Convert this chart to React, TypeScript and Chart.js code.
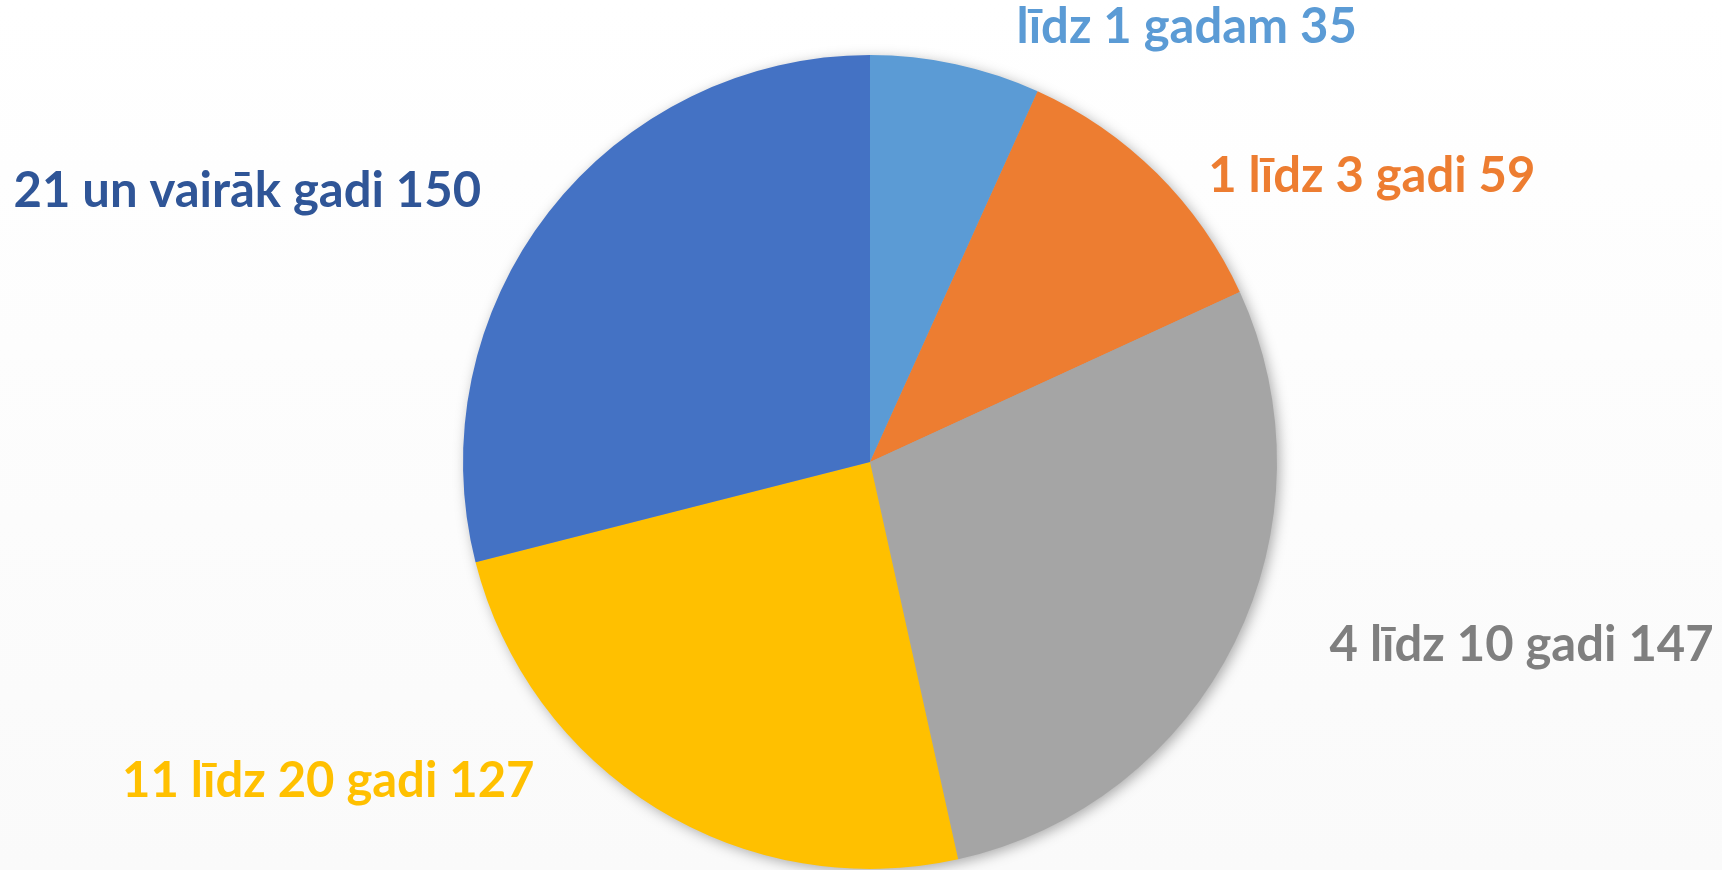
import React, { useEffect, useRef } from "react";
import { Chart, registerables } from "chart.js";

Chart.register(...registerables);

const categories = [
  "līdz 1 gadam",
  "1 līdz 3 gadi",
  "4 līdz 10 gadi",
  "11 līdz 20 gadi",
  "21 un vairāk gadi",
];
const values = [35, 59, 147, 127, 150];
const sliceColors = ["#5B9BD5", "#ED7D31", "#A5A5A5", "#FFC000", "#4472C4"];
const labelColors = ["#5B9BD5", "#ED7D31", "#7F7F7F", "#FFC000", "#2F5597"];

// label placement relative to pie centre, in units of radius (centre x, baseline y)
const labelOffsets: [number, number][] = [
  [0.778, -1.029],
  [1.233, -0.663],
  [1.601, 0.489],
  [-1.331, 0.823],
  [-1.53, -0.627],
];

const shadowPlugin = {
  id: "pieShadow",
  beforeDatasetsDraw(chart: any) {
    const meta = chart.getDatasetMeta(0);
    const arc = meta.data[0];
    if (!arc) return;
    const { x, y, outerRadius } = arc.getProps(["x", "y", "outerRadius"], true);
    const ctx = chart.ctx;
    ctx.save();
    ctx.shadowColor = "rgba(0,0,0,0.35)";
    ctx.shadowBlur = 14;
    ctx.shadowOffsetX = 3;
    ctx.shadowOffsetY = 3;
    ctx.fillStyle = "#A5A5A5";
    ctx.beginPath();
    ctx.arc(x, y, outerRadius - 1, 0, Math.PI * 2);
    ctx.fill();
    ctx.restore();
  },
};

const labelPlugin = {
  id: "outerLabels",
  afterDatasetsDraw(chart: any) {
    const meta = chart.getDatasetMeta(0);
    const arc = meta.data[0];
    if (!arc) return;
    const { x, y, outerRadius } = arc.getProps(["x", "y", "outerRadius"], true);
    const ctx = chart.ctx;
    ctx.save();
    ctx.font = "bold 49px Lato";
    ctx.textAlign = "center";
    ctx.textBaseline = "alphabetic";
    categories.forEach((c, i) => {
      const [fx, fy] = labelOffsets[i];
      ctx.fillStyle = labelColors[i];
      ctx.fillText(`${c} ${values[i]}`, x + fx * outerRadius, y + fy * outerRadius);
    });
    ctx.restore();
  },
};

export default function App() {
  const ref = useRef<HTMLCanvasElement>(null);
  useEffect(() => {
    if (!ref.current) return;
    const chart = new Chart(ref.current, {
      type: "pie",
      data: {
        labels: categories,
        datasets: [
          {
            data: values,
            backgroundColor: sliceColors,
            borderWidth: 0,
          },
        ],
      },
      options: {
        responsive: false,
        animation: false,
        layout: { padding: { left: 463, right: 445, top: 55, bottom: 1 } },
        plugins: {
          legend: { display: false },
          tooltip: { enabled: false },
        },
      },
      plugins: [shadowPlugin, labelPlugin],
    });
    return () => chart.destroy();
  }, []);
  return (
    <div
      style={{
        position: "fixed",
        left: 0,
        top: 0,
        width: 1722,
        height: 870,
        background: "linear-gradient(#FFFFFF, #FAFAFA)",
      }}
    >
      <canvas ref={ref} width={1722} height={870} />
    </div>
  );
}
